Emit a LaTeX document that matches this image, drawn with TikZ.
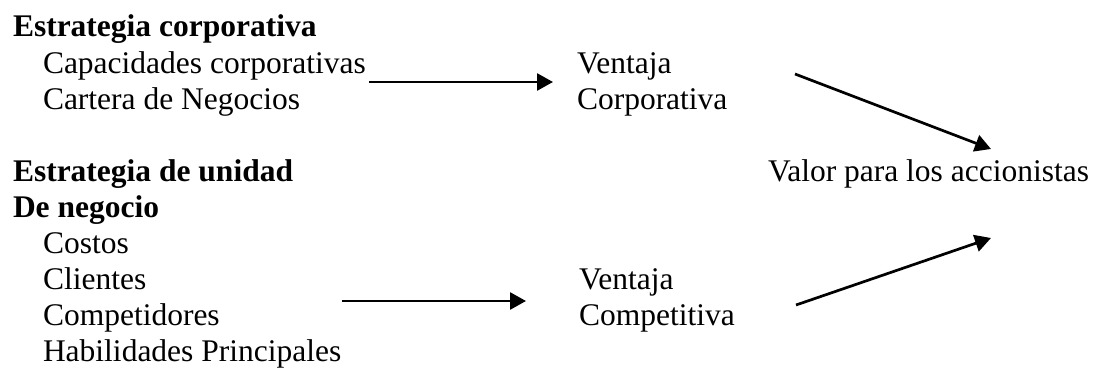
\documentclass[tikz,border=0pt]{standalone}
\usepackage{fontspec}
\setmainfont{Liberation Serif}
\usetikzlibrary{arrows.meta}
\begin{document}
\begin{tikzpicture}[x=1pt,y=-1pt,
  txt/.style={anchor=base west, inner sep=0pt, outer sep=0pt,
              font=\fontsize{31.5}{36}\selectfont},
  hd/.style={txt, font=\fontsize{31.5}{36}\selectfont\bfseries},
  arr/.style={line width=2.7pt, -{Triangle[length=16pt,width=17pt]}}]
\useasboundingbox[fill=white] (0,0) rectangle (1099,371);

% corporate strategy block
\node[hd]  (ec)  at (13,37)    {Estrategia corporativa};
\node[txt] (cap) at (43,73.1)  {Capacidades corporativas};
\node[txt] (car) at (43,109.2) {Cartera de Negocios};

% business unit strategy block
\node[hd]  (eu)  at (13,181.4) {Estrategia de unidad};
\node[hd]  (dn)  at (13,217.5) {De negocio};
\node[txt] (cos) at (43,253.6) {Costos};
\node[txt] (cli) at (43,289.7) {Clientes};
\node[txt] (com) at (43,325.8) {Competidores};
\node[txt] (hab) at (43,361.9) {Habilidades Principales};

% advantages
\node[txt] (vc1) at (577,73.1)  {Ventaja};
\node[txt] (vc2) at (577,109.2) {Corporativa};
\node[txt] (vp1) at (579,289.7) {Ventaja};
\node[txt] (vp2) at (579,325.8) {Competitiva};

% result
\node[txt] (val) at (768,181.4) {Valor para los accionistas};

% connector end points
\coordinate (a1s) at (369,82);
\coordinate (a1e) at (553,82);
\coordinate (a2s) at (342,301);
\coordinate (a2e) at (526,301);
\coordinate (d1s) at (795,74);
\coordinate (d1e) at (991,149);
\coordinate (d2s) at (796,305);
\coordinate (d2e) at (991,238);

\draw[arr] (a1s) -- (a1e);
\draw[arr] (a2s) -- (a2e);
\draw[arr] (d1s) -- (d1e);
\draw[arr] (d2s) -- (d2e);
\end{tikzpicture}
\end{document}
